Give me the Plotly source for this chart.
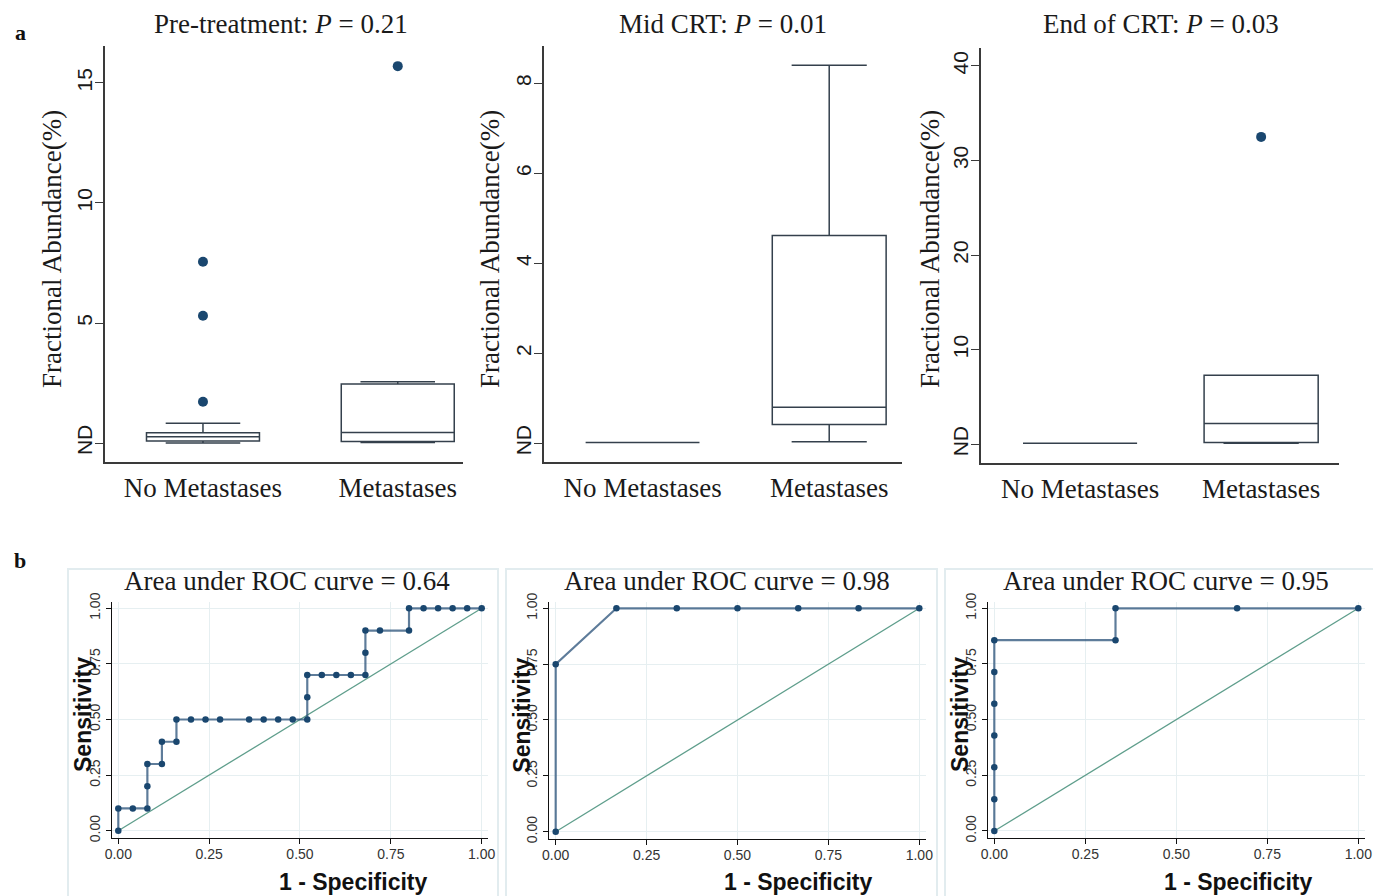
import plotly.graph_objects as go

W, H = 1373, 896

# ---------------- data ----------------
groups = ["No Metastases", "Metastases"]

box_titles = ["Pre-treatment: <i>P</i> = 0.21", "Mid CRT: <i>P</i> = 0.01", "End of CRT: <i>P</i> = 0.03"]

pre_lower = [0.0, 0.02]
pre_q1 = [0.08, 0.06]
pre_median = [0.26, 0.44]
pre_q3 = [0.43, 2.46]
pre_upper = [0.82, 2.55]
pre_out_x = ["No Metastases", "No Metastases", "No Metastases", "Metastases"]
pre_out_y = [7.55, 5.3, 1.72, 15.7]

mid_lower = [0.02, 0.035]
mid_q1 = [0.02, 0.42]
mid_median = [0.02, 0.8]
mid_q3 = [0.02, 4.62]
mid_upper = [0.02, 8.4]
mid_out_x = []
mid_out_y = []

end_lower = [0.1, 0.1]
end_q1 = [0.1, 0.2]
end_median = [0.1, 2.2]
end_q3 = [0.1, 7.3]
end_upper = [0.1, 7.3]
end_out_x = ["Metastases"]
end_out_y = [32.5]

box_ytickvals = [[0, 5, 10, 15], [0, 2, 4, 6, 8], [0, 10, 20, 30, 40]]
box_yticktext = [["ND", "5", "10", "15"], ["ND", "2", "4", "6", "8"], ["ND", "10", "20", "30", "40"]]

roc_titles = ["Area under ROC curve = 0.64", "Area under ROC curve = 0.98", "Area under ROC curve = 0.95"]
roc1_fpr = [0, 0, 0.04, 0.08, 0.08, 0.08, 0.12, 0.12, 0.16, 0.16, 0.20, 0.24, 0.28, 0.36, 0.40, 0.44,
            0.48, 0.52, 0.52, 0.52, 0.56, 0.60, 0.64, 0.68, 0.68, 0.68, 0.72, 0.80, 0.80, 0.84, 0.88,
            0.92, 0.96, 1.0]
roc1_tpr = [0, 0.1, 0.1, 0.1, 0.2, 0.3, 0.3, 0.4, 0.4, 0.5, 0.5, 0.5, 0.5, 0.5, 0.5, 0.5,
            0.5, 0.5, 0.6, 0.7, 0.7, 0.7, 0.7, 0.7, 0.8, 0.9, 0.9, 0.9, 1.0, 1.0, 1.0,
            1.0, 1.0, 1.0]
roc2_fpr = [0, 0, 0.167, 0.333, 0.5, 0.667, 0.833, 1.0]
roc2_tpr = [0, 0.75, 1.0, 1.0, 1.0, 1.0, 1.0, 1.0]
roc3_fpr = [0, 0, 0, 0, 0, 0, 0, 0.333, 0.333, 0.667, 1.0]
roc3_tpr = [0, 0.143, 0.286, 0.429, 0.571, 0.714, 0.857, 0.857, 1.0, 1.0, 1.0]
roc_ticks = [0, 0.25, 0.5, 0.75, 1.0]

# ---------------- styling / layout helpers ----------------
NAVY = "#1a476f"
BOXLINE = "#34404c"
SERIF = "Liberation Serif"
SANS = "Liberation Sans"


def px(x):
    return x / W


def py(y):
    return 1 - y / H


fig = go.Figure()

# top panels: pixel domains and axis ranges
top_dom_x = [(105, 463), (544, 902), (981, 1339)]
top_dom_y = [(46, 462), (46, 462), (48, 463)]
top_xrange = [[-0.503, 1.335], [-0.528, 1.39], [-0.547, 1.43]]
top_yrange = [[-0.79, 16.54], [-0.415, 8.83], [-1.98, 41.9]]
box_widths = [0.58, 0.61, 0.63]

box_data = [
    (pre_lower, pre_q1, pre_median, pre_q3, pre_upper, pre_out_x, pre_out_y),
    (mid_lower, mid_q1, mid_median, mid_q3, mid_upper, mid_out_x, mid_out_y),
    (end_lower, end_q1, end_median, end_q3, end_upper, end_out_x, end_out_y),
]

layout_axes = {}
annotations = []
shapes = []

for i, (lo, q1, med, q3, up, ox, oy) in enumerate(box_data):
    n = i + 1
    xa = "x" if n == 1 else f"x{n}"
    ya = "y" if n == 1 else f"y{n}"
    fig.add_trace(go.Box(
        x=groups, lowerfence=lo, q1=q1, median=med, q3=q3, upperfence=up,
        xaxis=xa, yaxis=ya, boxpoints=False, width=box_widths[i], whiskerwidth=0.66,
        fillcolor="white", line=dict(color=BOXLINE, width=1.5), hoverinfo="skip",
    ))
    if ox:
        fig.add_trace(go.Scatter(
            x=ox, y=oy, mode="markers", xaxis=xa, yaxis=ya,
            marker=dict(color=NAVY, size=10), hoverinfo="skip",
        ))
    x0, x1 = top_dom_x[i]
    y0, y1 = top_dom_y[i]
    layout_axes[f"xaxis{'' if n == 1 else n}"] = dict(
        domain=[px(x0), px(x1)], anchor=ya, type="category", categoryorder="array",
        categoryarray=groups, range=top_xrange[i], showline=True, linecolor="#3a3a3a",
        linewidth=1.5, ticks="", showgrid=False, zeroline=False, automargin=False,
        tickfont=dict(family=SERIF, size=27, color="#1a1a1a"), ticklabelstandoff=1,
    )
    layout_axes[f"yaxis{'' if n == 1 else n}"] = dict(
        domain=[py(y1), py(y0)], anchor=xa, range=top_yrange[i], showline=True,
        linecolor="#3a3a3a", linewidth=1.5, ticks="outside", ticklen=8, tickcolor="#3a3a3a",
        tickwidth=1.2, tickvals=box_ytickvals[i], ticktext=box_yticktext[i], tickangle=-90,
        tickfont=dict(family=SANS, size=21, color="#1a1a1a"), showgrid=False, zeroline=False,
        automargin=False, ticklabelstandoff=-5,
    )

# titles and y titles of top panels
top_title_cx = [280.5, 723.3, 1160.8]
top_ytitle_x = [52, 490, 930]
for i in range(3):
    annotations.append(dict(
        x=px(top_title_cx[i]), y=py(24), xref="paper", yref="paper", text=box_titles[i],
        showarrow=False, xanchor="center", yanchor="middle",
        font=dict(family=SERIF, size=27, color="#1a1a1a"),
    ))
    annotations.append(dict(
        x=px(top_ytitle_x[i]), y=py(249), xref="paper", yref="paper",
        text="Fractional Abundance(%)", textangle=-90, showarrow=False,
        xanchor="center", yanchor="middle", font=dict(family=SERIF, size=27, color="#1a1a1a"),
    ))

# ROC panels
roc_data = [(roc1_fpr, roc1_tpr), (roc2_fpr, roc2_tpr), (roc3_fpr, roc3_tpr)]
roc_x01 = [(118.3, 481.7), (555.7, 919.3), (994.3, 1358.3)]
roc_y10 = [(608.3, 830.7), (608.3, 831.7), (608.3, 831.0)]
RX = [-0.018, 1.018]
RY = [-0.032, 1.03]
frames = [(68, 498), (506, 937), (945, 1380)]
roc_title_cx = [287, 727, 1165.5]
sens_x = [83, 521.7, 960]
spec_cx = [353, 798, 1237.5]

for i, (fx, ty) in enumerate(roc_data):
    n = i + 4
    xa, ya = f"x{n}", f"y{n}"
    xz, xo = roc_x01[i]
    yo, yz = roc_y10[i]
    sx = xo - xz
    sy = yz - yo
    dx0 = xz + RX[0] * sx
    dx1 = xz + RX[1] * sx
    dy_bot = yz - RY[0] * sy
    dy_top = yz - RY[1] * sy
    layout_axes[f"xaxis{n}"] = dict(
        domain=[px(dx0), px(dx1)], anchor=ya, range=RX, showline=True, linecolor="#111111",
        linewidth=1.3, ticks="outside", ticklen=5, tickcolor="#111111", tickvals=roc_ticks,
        tickformat=".2f", tickfont=dict(family=SANS, size=14, color="#333333"),
        showgrid=True, gridcolor="#e6eff1", gridwidth=1.2, zeroline=False, automargin=False,
        ticklabelstandoff=-2,
    )
    layout_axes[f"yaxis{n}"] = dict(
        domain=[py(dy_bot), py(dy_top)], anchor=xa, range=RY, showline=True,
        linecolor="#111111", linewidth=1.3, ticks="outside", ticklen=5, tickcolor="#111111",
        tickvals=roc_ticks, tickformat=".2f", tickangle=-90,
        tickfont=dict(family=SANS, size=14, color="#333333"),
        showgrid=True, gridcolor="#e6eff1", gridwidth=1.2, zeroline=False, automargin=False,
    )
    # reference diagonal
    fig.add_trace(go.Scatter(
        x=[0, 1], y=[0, 1], mode="lines", xaxis=xa, yaxis=ya,
        line=dict(color="#5f9e8c", width=1.3), hoverinfo="skip",
    ))
    fig.add_trace(go.Scatter(
        x=fx, y=ty, mode="lines+markers", xaxis=xa, yaxis=ya,
        line=dict(color="rgba(40,80,120,0.75)", width=2.2),
        marker=dict(color=NAVY, size=6.5), hoverinfo="skip",
    ))
    fl, fr = frames[i]
    shapes.append(dict(
        type="rect", xref="paper", yref="paper", x0=px(fl), x1=px(fr), y0=py(899), y1=py(569),
        line=dict(color="#e2ecef", width=2), fillcolor="rgba(0,0,0,0)", layer="below",
    ))
    annotations.append(dict(
        x=px(roc_title_cx[i]), y=py(581), xref="paper", yref="paper", text=roc_titles[i],
        showarrow=False, xanchor="center", yanchor="middle",
        font=dict(family=SERIF, size=27, color="#1a1a1a"),
    ))
    annotations.append(dict(
        x=px(sens_x[i]), y=py(715), xref="paper", yref="paper", text="<b>Sensitivity</b>",
        textangle=-90, showarrow=False, xanchor="center", yanchor="middle",
        font=dict(family=SANS, size=23, color="#111111"),
    ))
    annotations.append(dict(
        x=px(spec_cx[i]), y=py(882), xref="paper", yref="paper", text="<b>1 - Specificity</b>",
        showarrow=False, xanchor="center", yanchor="middle",
        font=dict(family=SANS, size=23, color="#111111"),
    ))

# panel letters
annotations.append(dict(x=px(20), y=py(33), xref="paper", yref="paper", text="<b>a</b>",
                        showarrow=False, xanchor="center", yanchor="middle",
                        font=dict(family=SERIF, size=22, color="#111111")))
annotations.append(dict(x=px(20), y=py(560), xref="paper", yref="paper", text="<b>b</b>",
                        showarrow=False, xanchor="center", yanchor="middle",
                        font=dict(family=SERIF, size=22, color="#111111")))

fig.update_layout(
    template="none",
    width=W, height=H, margin=dict(l=0, r=0, t=0, b=0, pad=0), autosize=False,
    paper_bgcolor="white", plot_bgcolor="rgba(0,0,0,0)", showlegend=False, boxmode="overlay",
    annotations=annotations, shapes=shapes, **layout_axes,
)

fig.write_html("out.html")
